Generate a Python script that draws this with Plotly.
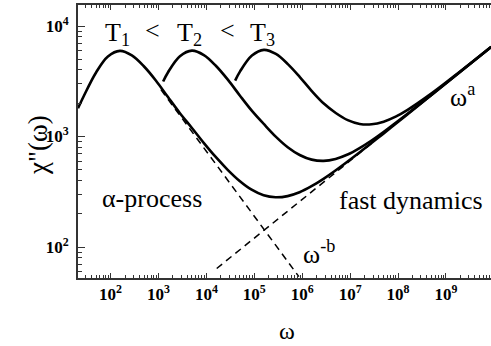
import plotly.graph_objects as go

# ---- data (log10 of omega, chi'' values) ----
log_omega_T1 = [1.32, 1.444, 1.694, 1.944, 2.194, 2.444, 2.694, 2.944, 3.194, 3.444, 3.694,
                3.944, 4.194, 4.444, 4.694, 4.944, 5.194, 5.444, 5.694, 5.944, 6.194, 6.444,
                6.694, 7.194, 7.694, 8.194, 9.194, 9.944]
chi_T1 = [1801, 2340, 3780, 5300, 5955, 5423, 4323, 3215, 2287, 1634, 1201,
          877, 653, 500, 396, 330, 294, 282, 289, 313, 355, 414,
          492, 716, 1062, 1584, 3541, 6472]

log_omega_T2 = [3.097, 3.197, 3.447, 3.697, 3.947, 4.197, 4.447, 4.697, 4.947, 5.197, 5.447,
                5.697, 5.947, 6.197, 6.447, 6.697, 6.947, 7.197, 7.447, 7.697, 8.197, 8.697,
                9.197, 9.944]
chi_T2 = [3145, 3800, 5324, 5985, 5460, 4368, 3269, 2353, 1715, 1300, 999,
          801, 681, 618, 602, 627, 687, 786, 921, 1099, 1605, 2381,
          3553, 6471]

log_omega_T3 = [4.600, 4.700, 4.950, 5.200, 5.450, 5.700, 5.950, 6.200, 6.450, 6.700, 6.950,
                7.200, 7.450, 7.700, 7.950, 8.200, 8.700, 9.200, 9.944]
chi_T3 = [3206, 3867, 5406, 6085, 5581, 4517, 3451, 2576, 1987, 1633, 1406,
          1299, 1290, 1363, 1512, 1742, 2455, 3596, 6486]

# asymptotes (dashed)
log_omega_minus_b = [3.05, 5.93]
chi_minus_b = [2655, 54]
log_omega_a = [4.215, 7.5]
chi_a = [64, 904]

x_tick_exponents = [2, 3, 4, 5, 6, 7, 8, 9]
y_tick_exponents = [2, 3, 4]

SERIF = "Liberation Serif"

def to_omega(logs):
    return [10 ** v for v in logs]

fig = go.Figure()

for lx, cy in [(log_omega_minus_b, chi_minus_b), (log_omega_a, chi_a)]:
    fig.add_trace(go.Scatter(x=to_omega(lx), y=cy, mode="lines",
                             line=dict(color="black", width=1.5, dash="7px,5px"),
                             showlegend=False, hoverinfo="skip"))

for lx, cy in [(log_omega_T1, chi_T1), (log_omega_T2, chi_T2), (log_omega_T3, chi_T3)]:
    fig.add_trace(go.Scatter(x=to_omega(lx), y=cy, mode="lines",
                             line=dict(color="black", width=2.6, shape="spline", smoothing=1.0),
                             showlegend=False, hoverinfo="skip"))

axis_common = dict(type="log", showgrid=False, zeroline=False, showline=True,
                   linecolor="#333", linewidth=2, ticks="inside", tickcolor="#333",
                   tickwidth=1.3, tickmode="array",
                   tickfont=dict(family=SERIF, size=17, color="black", weight="bold"))

fig.update_xaxes(**axis_common, range=[1.32, 9.94], ticklen=5, mirror="ticks",
                 tickvals=[10 ** e for e in x_tick_exponents],
                 ticktext=[f"10<sup>{e}</sup>" for e in x_tick_exponents],
                 minor=dict(ticks="inside", ticklen=3, tickcolor="#333", tickwidth=1,
                            tickmode="array",
                            tickvals=[m * 10 ** e for e in range(1, 10) for m in range(2, 10)]))
fig.update_yaxes(**axis_common, range=[1.72, 4.19], ticklen=7, mirror=False,
                 tickvals=[10 ** e for e in y_tick_exponents],
                 ticktext=[f"10<sup>{e}</sup>" for e in y_tick_exponents],
                 ticklabelstandoff=4,
                 minor=dict(ticks="inside", ticklen=4, tickcolor="#333", tickwidth=1,
                            tickmode="array",
                            tickvals=[m * 10 ** e for e in range(1, 5) for m in range(2, 10)]))

ann_font = dict(family=SERIF, size=26, color="black")
annotations = [
    dict(x=2.15, y=3.93, text="T<sub>1</sub>"),
    dict(x=2.88, y=3.96, text="<"),
    dict(x=3.655, y=3.93, text="T<sub>2</sub>"),
    dict(x=4.43, y=3.96, text="<"),
    dict(x=5.17, y=3.93, text="T<sub>3</sub>"),
    dict(x=2.862, y=2.437, text="α-process"),
    dict(x=8.269, y=2.419, text="fast dynamics"),
    dict(x=6.36, y=1.95, text="ω<sup>-b</sup>"),
    dict(x=9.34, y=3.37, text="ω<sup>a</sup>"),
]
for a in annotations:
    fig.add_annotation(xref="x", yref="y", showarrow=False, font=ann_font,
                       xanchor="center", yanchor="middle", **a)

fig.add_annotation(xref="paper", yref="paper", x=-0.097, y=0.487, text='χ"(ω)',
                   textangle=-90, showarrow=False, xanchor="center", yanchor="middle",
                   font=dict(family=SERIF, size=27, color="black"))
fig.add_annotation(xref="paper", yref="paper", x=0.506, y=-0.194, text="ω",
                   showarrow=False, xanchor="center", yanchor="middle",
                   font=dict(family=SERIF, size=24, color="black"))

fig.update_layout(width=491, height=346, margin=dict(l=78, r=0, t=5, b=68),
                  plot_bgcolor="white", paper_bgcolor="white")

fig.write_html("out.html")
